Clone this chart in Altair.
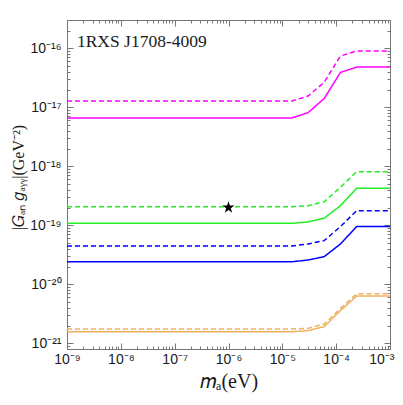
import altair as alt
import pandas as pd

# ---- data ----
m_knots = [1e-9, 1.5e-5, 3e-5, 6e-5, 1.2e-4, 2.4e-4, 1e-3]

magenta_solid = [6.6e-18, 6.6e-18, 8.1e-18, 1.41e-17, 3.9e-17, 4.8e-17, 4.8e-17]
magenta_dashed = [1.28e-17, 1.28e-17, 1.55e-17, 2.65e-17, 7.4e-17, 9.0e-17, 9.0e-17]
green_solid = [1.08e-19, 1.08e-19, 1.14e-19, 1.32e-19, 2.15e-19, 4.24e-19, 4.25e-19]
green_dashed = [2.06e-19, 2.06e-19, 2.15e-19, 2.51e-19, 4.4e-19, 8.1e-19, 8.1e-19]
blue_solid = [2.41e-20, 2.41e-20, 2.58e-20, 2.94e-20, 4.82e-20, 9.5e-20, 9.5e-20]
blue_dashed = [4.46e-20, 4.46e-20, 4.82e-20, 5.5e-20, 9.5e-20, 1.77e-19, 1.77e-19]
orange_solid = [1.57e-21, 1.57e-21, 1.64e-21, 1.91e-21, 3.6e-21, 6.3e-21, 6.3e-21]
orange_dashed = [1.75e-21, 1.75e-21, 1.79e-21, 2.12e-21, 3.9e-21, 6.9e-21, 6.9e-21]

series_names = ["magenta", "green", "blue", "orange"]
series_colors = ["#ff00ff", "#22ee22", "#0000ff", "#f0b060"]

star_m = [1e-6]
star_g = [2e-19]

label_text = ["1RXS J1708-4009"]
label_m = [1.53e-9]
label_g = [1.05e-16]

x_domain = [1e-9, 1e-3]
y_domain = [10 ** -21.097, 10 ** -15.52]

x_major = [10.0 ** e for e in range(-9, -2)]
x_minor = [k * 10.0 ** e for e in range(-9, -3) for k in range(2, 10)]
y_major = [10.0 ** e for e in range(-21, -15)]
y_minor = [k * 10.0 ** e for e in range(-22, -15) for k in range(2, 10)
           if y_domain[0] <= k * 10.0 ** e <= y_domain[1]]

# ---- tables ----
rows = []
for name, style, vals in [
    ("magenta", "solid", magenta_solid), ("magenta", "dashed", magenta_dashed),
    ("green", "solid", green_solid), ("green", "dashed", green_dashed),
    ("blue", "solid", blue_solid), ("blue", "dashed", blue_dashed),
    ("orange", "solid", orange_solid), ("orange", "dashed", orange_dashed),
]:
    for m, g in zip(m_knots, vals):
        rows.append({"m": m, "g": g, "series": name, "style": style, "key": name + "-" + style})
df = pd.DataFrame(rows)
star_df = pd.DataFrame({"m": star_m, "g": star_g})
label_df = pd.DataFrame({"m": label_m, "g": label_g, "t": label_text})

SUP = {"-": "\u207b", "0": "\u2070", "1": "\u00b9", "2": "\u00b2", "3": "\u00b3",
       "4": "\u2074", "5": "\u2075", "6": "\u2076", "7": "\u2077", "8": "\u2078", "9": "\u2079"}


def sup(n):
    return "".join(SUP[c] for c in str(n))


label_expr = " : ".join(
    f"round(log(datum.value)/LN10) == {e} ? '10{sup(e)}'" for e in range(-22, -2)
) + " : ''"

xs = alt.Scale(type="log", domain=x_domain, nice=False)
ys = alt.Scale(type="log", domain=y_domain, nice=False)

FRAME = "#777777"
TXT = "#1a1a1a"


def tick_axis(orient, values, size):
    return alt.Axis(orient=orient, values=values, labels=False, domain=False, grid=False,
                    ticks=True, tickSize=size, offset=-size, tickColor=FRAME, tickWidth=1,
                    title=None)


x_label_axis = alt.Axis(orient="bottom", values=x_major, labelExpr=label_expr, ticks=False,
                        domain=False, grid=False, labelFont="Liberation Sans", labelFontSize=14,
                        labelColor=TXT, labelPadding=3, labelFlush=False,
                        labelAlign={"condition": {"test": "datum.value > 5e-4", "value": "right"},
                                    "value": "center"},
                        labelOffset={"condition": {"test": "datum.value > 5e-4", "value": 4},
                                     "value": 0},
                        title="\U0001d45a\u2090(eV)", titleFont="Liberation Serif",
                        titleFontSize=20, titleFontWeight="normal", titleColor=TXT,
                        titleBaseline="middle", titleY=32)
y_label_axis = alt.Axis(orient="left", values=y_major, labelExpr=label_expr, ticks=False,
                        domain=False, grid=False, labelFont="Liberation Sans", labelFontSize=14,
                        labelColor=TXT, labelPadding=6, labelFlush=False,
                        title="|\U0001d43a\u2090\u2099 \U0001d454\u2090\u1d67\u1d67|(GeV\u207b\u00b2)",
                        titleFont="Liberation Serif", titleFontSize=16, titleFontWeight="normal",
                        titleColor=TXT, titleBaseline="middle", titleX=-49, titleY=157,
                        titleAngle=270)

lines = alt.Chart(df).mark_line(strokeWidth=1.5, clip=True).encode(
    x=alt.X("m:Q", scale=xs, axis=x_label_axis),
    y=alt.Y("g:Q", scale=ys, axis=y_label_axis),
    color=alt.Color("series:N", scale=alt.Scale(domain=series_names, range=series_colors), legend=None),
    strokeDash=alt.StrokeDash("style:N", scale=alt.Scale(domain=["solid", "dashed"],
                                                          range=[[1, 0], [5, 3]]), legend=None),
    detail="key:N",
    order="m:Q",
)

STAR = ("M0,-1L0.2245,-0.309L0.9511,-0.309L0.3633,0.118L0.5878,0.809L0,0.382"
        "L-0.5878,0.809L-0.3633,0.118L-0.9511,-0.309L-0.2245,-0.309Z")

star = alt.Chart(star_df).mark_point(shape=STAR, filled=True, color="black", size=160, opacity=1).encode(
    x=alt.X("m:Q", scale=xs, axis=tick_axis("bottom", x_major, 6)),
    y=alt.Y("g:Q", scale=ys, axis=tick_axis("left", y_major, 6)),
)

label = alt.Chart(label_df).mark_text(font="Liberation Serif", fontSize=17.5, align="left",
                                      baseline="alphabetic", color=TXT).encode(
    x=alt.X("m:Q", scale=xs, axis=tick_axis("bottom", x_minor, 3)),
    y=alt.Y("g:Q", scale=ys, axis=tick_axis("left", y_minor, 3)),
    text="t:N",
)

top_major = alt.Chart(star_df).mark_point(opacity=0).encode(
    x=alt.X("m:Q", scale=xs, axis=tick_axis("top", x_major, 6)),
    y=alt.Y("g:Q", scale=ys, axis=tick_axis("right", y_major, 6)),
)
top_minor = alt.Chart(star_df).mark_point(opacity=0).encode(
    x=alt.X("m:Q", scale=xs, axis=tick_axis("top", x_minor, 3)),
    y=alt.Y("g:Q", scale=ys, axis=tick_axis("right", y_minor, 3)),
)

chart = alt.layer(lines, star, label, top_major, top_minor).resolve_axis(
    x="independent", y="independent"
).properties(
    width=323, height=329,
    autosize=alt.AutoSizeParams(type="none"),
    padding={"left": 59, "top": 12, "right": 5, "bottom": 48},
    background="white",
).configure_view(stroke=FRAME, strokeWidth=1)

chart.save("out.html", embed_options={"renderer": "svg", "actions": False})
